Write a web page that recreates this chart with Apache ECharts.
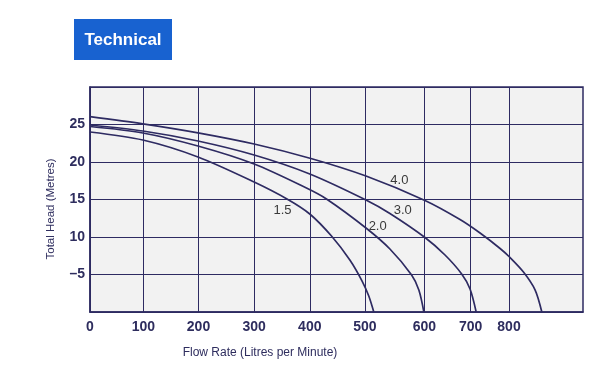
<!DOCTYPE html>
<html><head><meta charset="utf-8">
<script src="https://cdn.jsdelivr.net/npm/echarts@6/dist/echarts.min.js"></script>
<style>html,body{margin:0;padding:0;background:#fff}#c{width:609px;height:367px}</style>
</head><body><div id="c"></div>
<script>
// x axis gridline positions (the printed chart spaces its flow gridlines unevenly)
const flowTickPositions = [0, 96, 195, 295, 395, 494, 601, 684, 753];
const flowTickLabels = ['0', '100', '200', '300', '400', '500', '600', '700', '800'];
const headTickValues = [5, 10, 15, 20, 25];
const headTickLabels = ['–5', '10', '15', '20', '25'];

// pump curves (flow in axis units, head in metres)
const flow_1_5 = [0, 95, 194, 295, 354, 395, 434, 467, 489, 501, 510];
const head_1_5 = [24.0, 22.93, 20.67, 17.33, 15.07, 13.07, 10.13, 6.93, 4.13, 2.13, 0];
const flow_2_0 = [0, 95, 194, 295, 389, 425, 496, 539, 578, 591, 600];
const head_2_0 = [24.73, 23.87, 22.13, 19.73, 16.53, 15.07, 11.2, 8.4, 4.93, 2.93, 0];
const flow_3_0 = [0, 95, 194, 295, 395, 496, 539, 602, 638, 668, 683, 694];
const head_3_0 = [24.93, 24.13, 22.8, 20.93, 18.4, 14.93, 13.13, 9.93, 7.6, 5.07, 3.07, 0];
const flow_4_0 = [0, 95, 194, 295, 397, 496, 602, 665, 701, 737, 754, 779, 800, 812];
const head_4_0 = [26.04, 25.09, 23.89, 22.4, 20.47, 18.13, 14.87, 12.33, 10.53, 8.47, 7.33, 5.33, 2.93, 0];
const curveNames = ['1.5', '2.0', '3.0', '4.0'];

const navy = '#2e2b62';
const chart = echarts.init(document.getElementById('c'), null, {renderer: 'canvas'});

function curve(name, xs, ys, labelAt) {
  return {
    name: name, type: 'line', smooth: 0.3, showSymbol: false, silent: true,
    data: xs.map((x, i) => [x, ys[i]]),
    lineStyle: {color: navy, width: 1.7},
    markPoint: {
      symbol: 'circle', symbolSize: 0, silent: true,
      data: [{coord: labelAt, value: name}],
      label: {show: true, position: 'inside', formatter: name, color: '#3a3a3a',
              fontSize: 13, fontFamily: 'Liberation Sans, Arial, sans-serif'}
    }
  };
}

chart.setOption({
  animation: false,
  backgroundColor: '#ffffff',
  grid: {left: 90, top: 87, width: 493, height: 225, show: true,
         backgroundColor: '#f2f2f2', borderColor: navy, borderWidth: 1.5},
  xAxis: {
    type: 'value', min: 0, max: 886,
    axisLine: {show: true, lineStyle: {color: navy, width: 1.5}},
    axisTick: {show: false, customValues: flowTickPositions},
    axisLabel: {customValues: flowTickPositions, margin: 8,
      formatter: v => flowTickLabels[flowTickPositions.indexOf(v)],
      color: '#2e2d5e', fontSize: 14, fontWeight: 'bold', fontFamily: 'Liberation Sans, Arial, sans-serif'},
    splitLine: {show: true, lineStyle: {color: navy, width: 1}}
  },
  yAxis: {
    type: 'value', min: 0, max: 30, interval: 5,
    axisLine: {show: true, lineStyle: {color: navy, width: 1.5}},
    axisTick: {show: false},
    axisLabel: {showMinLabel: false, showMaxLabel: false, margin: 5,
      formatter: v => { const i = headTickValues.indexOf(v); return i >= 0 ? headTickLabels[i] : ''; },
      color: '#2e2d5e', fontSize: 14, fontWeight: 'bold', fontFamily: 'Liberation Sans, Arial, sans-serif'},
    splitLine: {show: true, lineStyle: {color: navy, width: 1}}
  },
  graphic: [
    {type: 'rect', left: 74, top: 19, shape: {width: 98, height: 41}, style: {fill: '#1862d0'}},
    {type: 'text', x: 123, y: 40, style: {text: 'Technical', fill: '#ffffff', font: 'bold 17px "Liberation Sans", Arial, sans-serif', textAlign: 'center', textVerticalAlign: 'middle'}},
    {type: 'text', x: 260, y: 353, style: {text: 'Flow Rate (Litres per Minute)', fill: '#2e2d5e', font: '12px "Liberation Sans", Arial, sans-serif', textAlign: 'center', textVerticalAlign: 'middle'}},
    {type: 'text', x: 51, y: 209, rotation: Math.PI / 2, style: {text: 'Total Head (Metres)', fill: '#2e2d5e', font: '11.5px "Liberation Sans", Arial, sans-serif', textAlign: 'center', textVerticalAlign: 'middle'}}
  ],
  series: [
    curve(curveNames[0], flow_1_5, head_1_5, [346, 13.6]),
    curve(curveNames[1], flow_2_0, head_2_0, [517, 11.4]),
    curve(curveNames[2], flow_3_0, head_3_0, [562, 13.6]),
    curve(curveNames[3], flow_4_0, head_4_0, [556, 17.6])
  ]
});
</script></body></html>
